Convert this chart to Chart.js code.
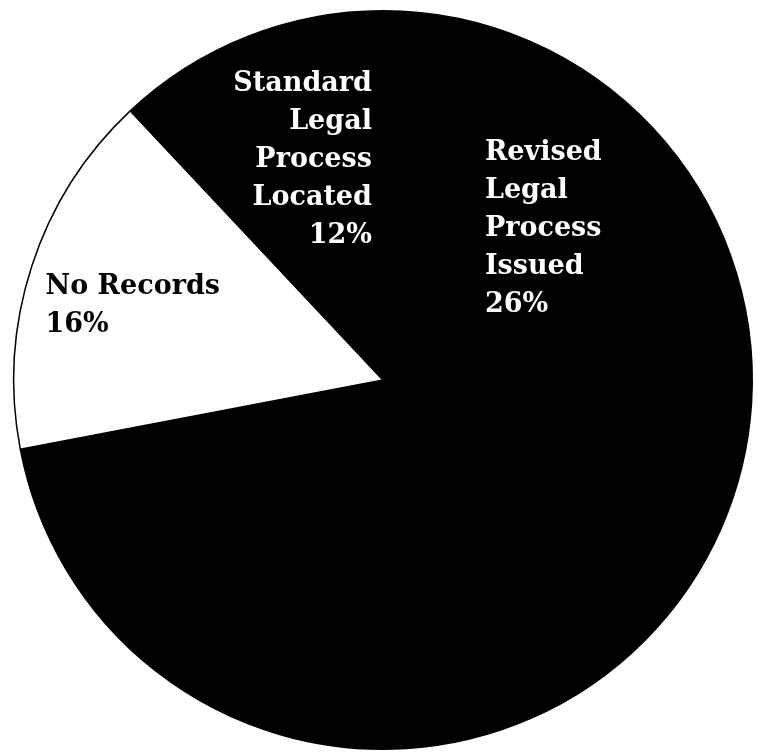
<!DOCTYPE html>
<html>
<head>
<meta charset="utf-8">
<script src="https://cdn.jsdelivr.net/npm/chart.js@4/dist/chart.umd.min.js"></script>
<style>
  html, body { margin: 0; padding: 0; background: #fff; }
  #wrap { width: 758px; height: 755px; position: relative; }
</style>
</head>
<body>
<div id="wrap"><canvas id="pieChart"></canvas></div>
<script>
// Slices in drawing order (clockwise from 12 o'clock)
const categories = ["Revised Legal Process Issued", "Other", "No Records", "Standard Legal Process Located"];
const shares = [26, 46, 16, 12];
const labelLines = [
  ["Revised", "Legal", "Process", "Issued", "26%"],
  [],
  ["No Records", "16%"],
  ["Standard", "Legal", "Process", "Located", "12%"]
];
const sliceColors = ["#000000", "#000000", "#ffffff", "#000000"];

// where each label block sits, as fractions of the radius from the centre
const labelPlace = [
  { fx: 0.276,  fy: -0.614, align: "left",  color: "#fff" },
  null,
  { fx: -0.914, fy: -0.251, align: "left",  color: "#000" },
  { fx: -0.03,  fy: -0.803, align: "right", color: "#fff" }
];

// Draw the text blocks on top of the slices
const sliceLabels = {
  id: "sliceLabels",
  afterDatasetsDraw(chart) {
    const ctx = chart.ctx;
    const meta = chart.getDatasetMeta(0);
    meta.data.forEach((arc, i) => {
      const p = labelPlace[i];
      if (!p) return;
      const r = arc.outerRadius;
      const x = arc.x + p.fx * r;
      let y = arc.y + p.fy * r;
      ctx.save();
      ctx.font = "bold 27px 'DejaVu Serif', serif";
      ctx.fillStyle = p.color;
      ctx.textAlign = p.align;
      ctx.textBaseline = "middle";
      labelLines[i].forEach(line => {
        ctx.fillText(line, x, y);
        y += r * 0.103;
      });
      ctx.restore();
    });
  }
};

new Chart(document.getElementById("pieChart"), {
  type: "pie",
  data: {
    labels: categories,
    datasets: [{
      data: shares,
      backgroundColor: sliceColors,
      borderColor: "#000",
      borderWidth: 1.5
    }]
  },
  options: {
    responsive: true,
    maintainAspectRatio: false,
    animation: false,
    layout: { padding: { left: 8, right: 0, top: 10, bottom: 5 } },
    plugins: {
      legend: { display: false },
      tooltip: { enabled: false }
    }
  },
  plugins: [sliceLabels]
});
</script>
</body>
</html>
